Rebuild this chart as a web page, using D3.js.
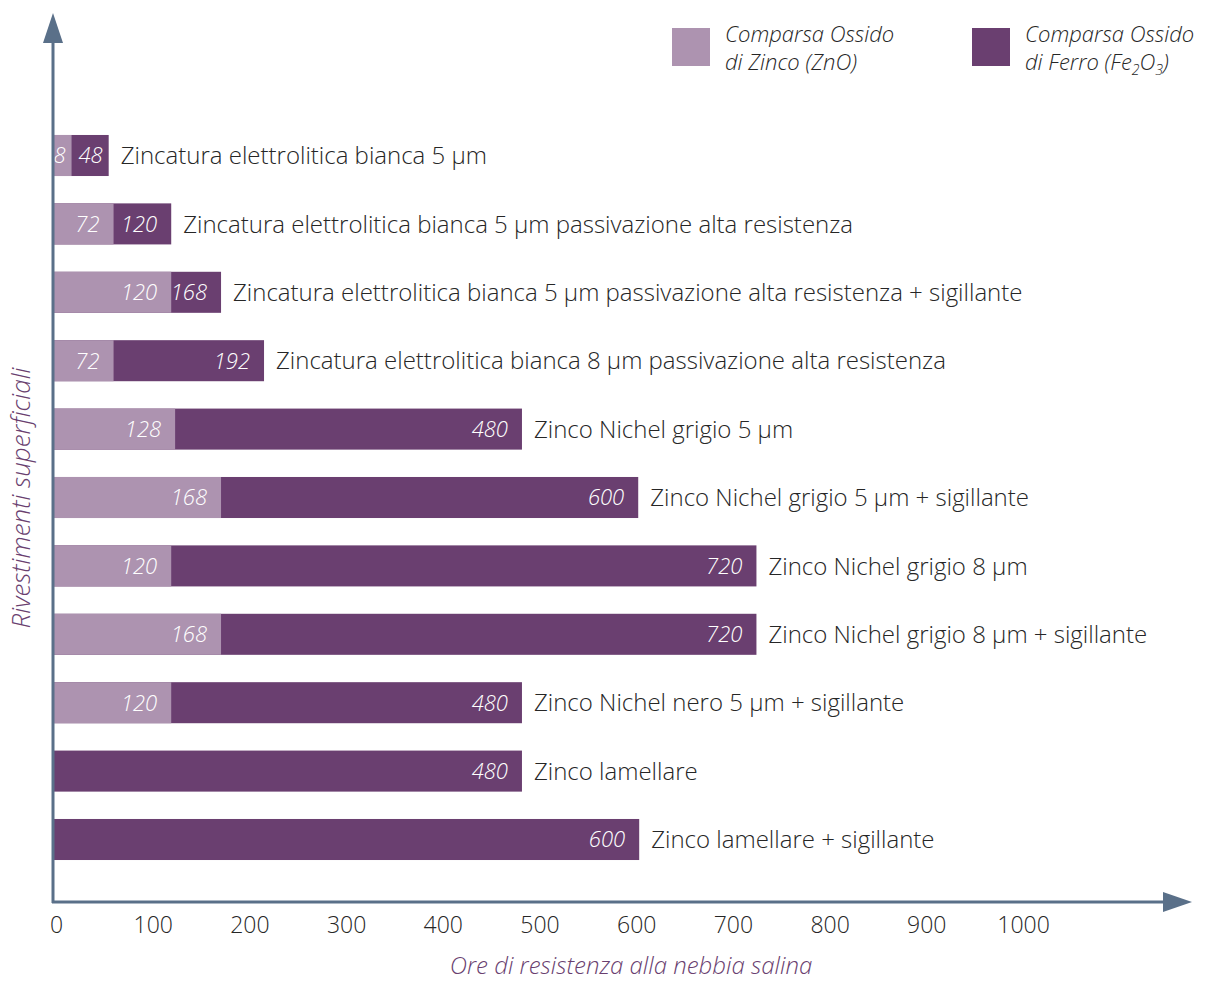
<!DOCTYPE html>
<html lang="it">
<head>
    <meta charset="UTF-8">
    <title>Ore di resistenza alla nebbia salina</title>
    <script src="https://d3js.org/d3.v7.min.js"></script>
    <style>
        body {
            margin: 0;
            background-color: #ffffff;
            font-family: "Open Sans", sans-serif;
        }
        #chart svg { display: block; }
        .cat-label { font-size: 24px; font-weight: 300; fill: #262626; }
        .val-label { font-size: 22px; font-style: italic; font-weight: 300; fill: #ffffff; }
        .tick text { font-family: "Open Sans", sans-serif; font-size: 23px; font-weight: 300; fill: #262626; }
        .axis-title { font-size: 24px; font-style: italic; font-weight: 300; fill: #6a3f70; }
        .legend-text { font-size: 22px; font-style: italic; font-weight: 300; fill: #262626; }
    </style>
</head>
<body>
<div id="chart"></div>
<script>
    // coatings, top to bottom
    const categories = [
        "Zincatura elettrolitica bianca 5 µm",
        "Zincatura elettrolitica bianca 5 µm passivazione alta resistenza",
        "Zincatura elettrolitica bianca 5 µm passivazione alta resistenza + sigillante",
        "Zincatura elettrolitica bianca 8 µm passivazione alta resistenza",
        "Zinco Nichel grigio 5 µm",
        "Zinco Nichel grigio 5 µm + sigillante",
        "Zinco Nichel grigio 8 µm",
        "Zinco Nichel grigio 8 µm + sigillante",
        "Zinco Nichel nero 5 µm + sigillante",
        "Zinco lamellare",
        "Zinco lamellare + sigillante"
    ];

    // hours printed on the bars (null = no ZnO segment)
    const znoHours = [8, 72, 120, 72, 128, 168, 120, 168, 120, null, null];
    const feHours  = [48, 120, 168, 192, 480, 600, 720, 720, 480, 480, 600];

    // bar lengths as drawn in the picture (hours), small bars are stretched there
    const znoBar = [19, 62, 121, 62, 125, 172, 121, 172, 121, 0, 0];
    const feBar  = [57, 121, 172, 216, 480, 599, 720, 720, 480, 480, 600];

    const xTicks = [0, 100, 200, 300, 400, 500, 600, 700, 800, 900, 1000];

    const width = 1205, height = 981;
    const colorZno = "#ad93b0", colorFe = "#6a3f70", axisColor = "#5a7089";

    const svg = d3.select("#chart").append("svg")
        .attr("width", width)
        .attr("height", height);

    const x = d3.scaleLinear().domain([0, 1000]).range([53, 1030]);
    // tick labels in the picture sit on a slightly tighter grid
    const xLabel = d3.scaleLinear().domain([0, 1000]).range([56, 1023]);

    const y = d3.scaleBand()
        .domain(categories)
        .range([121.3, 873.7])
        .paddingInner(0.4)
        .paddingOuter(0.2);

    const rows = categories.map((c, i) => ({
        name: c, zno: znoHours[i], fe: feHours[i], znoEnd: znoBar[i], feEnd: feBar[i]
    }));

    const g = svg.append("g");

    // Fe2O3 bars (from 0, covered by ZnO part)
    g.selectAll(".bar-fe")
        .data(rows)
        .enter().append("rect")
        .attr("class", "bar-fe")
        .attr("x", x(0))
        .attr("y", d => y(d.name))
        .attr("width", d => x(d.feEnd) - x(0))
        .attr("height", y.bandwidth())
        .attr("fill", colorFe);

    g.selectAll(".bar-zno")
        .data(rows.filter(d => d.zno !== null))
        .enter().append("rect")
        .attr("class", "bar-zno")
        .attr("x", x(0))
        .attr("y", d => y(d.name))
        .attr("width", d => x(d.znoEnd) - x(0))
        .attr("height", y.bandwidth())
        .attr("fill", colorZno);

    // values inside the bars
    const pad = w => w < 45 ? 6 : 14;
    g.selectAll(".val-zno")
        .data(rows.filter(d => d.zno !== null))
        .enter().append("text")
        .attr("class", "val-label")
        .attr("x", d => x(d.znoEnd) - pad(x(d.znoEnd) - x(0)))
        .attr("y", d => y(d.name) + y.bandwidth() / 2)
        .attr("dy", "0.36em")
        .attr("text-anchor", "end")
        .text(d => d.zno);

    g.selectAll(".val-fe")
        .data(rows)
        .enter().append("text")
        .attr("class", "val-label")
        .attr("x", d => x(d.feEnd) - pad(x(d.feEnd) - x(d.znoEnd)))
        .attr("y", d => y(d.name) + y.bandwidth() / 2)
        .attr("dy", "0.36em")
        .attr("text-anchor", "end")
        .text(d => d.fe);

    // coating names after the bar
    g.selectAll(".cat-label")
        .data(rows)
        .enter().append("text")
        .attr("class", "cat-label")
        .attr("x", d => x(d.feEnd) + 12)
        .attr("y", d => y(d.name) + y.bandwidth() / 2)
        .attr("dy", "0.36em")
        .text(d => d.name);

    // axes with arrow heads
    svg.append("line")
        .attr("x1", 53).attr("y1", 903)
        .attr("x2", 53).attr("y2", 30)
        .attr("stroke", axisColor).attr("stroke-width", 3);
    svg.append("path")
        .attr("d", "M53,13 L63,43 L43,43 Z")
        .attr("fill", axisColor);

    svg.append("line")
        .attr("x1", 52).attr("y1", 902)
        .attr("x2", 1175).attr("y2", 902)
        .attr("stroke", axisColor).attr("stroke-width", 3);
    svg.append("path")
        .attr("d", "M1192,902 L1163,892 L1163,912 Z")
        .attr("fill", axisColor);

    const xAxis = d3.axisBottom(xLabel)
        .tickValues(xTicks)
        .tickSize(0)
        .tickPadding(15)
        .tickFormat(d3.format("d"));

    svg.append("g")
        .attr("transform", "translate(0,902)")
        .call(xAxis)
        .call(a => a.select(".domain").remove());

    // axis titles
    svg.append("text")
        .attr("class", "axis-title")
        .attr("x", 631).attr("y", 974)
        .attr("text-anchor", "middle")
        .text("Ore di resistenza alla nebbia salina");

    svg.append("text")
        .attr("class", "axis-title")
        .attr("transform", "translate(30,498) rotate(-90)")
        .attr("text-anchor", "middle")
        .style("font-size", "26px")
        .text("Rivestimenti superficiali");

    // legend
    const legend = svg.append("g");
    const legendItems = [
        { color: colorZno, x: 672, line2: [["di Zinco (ZnO)", false]] },
        { color: colorFe, x: 972, line2: [["di Ferro (Fe", false], ["2", true], ["O", false], ["3", true], [")", false]] }
    ];
    legendItems.forEach(item => {
        legend.append("rect")
            .attr("x", item.x).attr("y", 28)
            .attr("width", 38).attr("height", 38)
            .attr("fill", item.color);
        legend.append("text")
            .attr("class", "legend-text")
            .attr("x", item.x + 53).attr("y", 42)
            .text("Comparsa Ossido");
        const t = legend.append("text")
            .attr("class", "legend-text")
            .attr("x", item.x + 53).attr("y", 70);
        item.line2.forEach(([s, sub]) => {
            const sp = t.append("tspan").text(s);
            if (sub) sp.style("font-size", "14px").attr("dy", 5);
            else if (t.selectAll("tspan").size() > 1) sp.attr("dy", -5);
        });
    });
</script>
</body>
</html>
